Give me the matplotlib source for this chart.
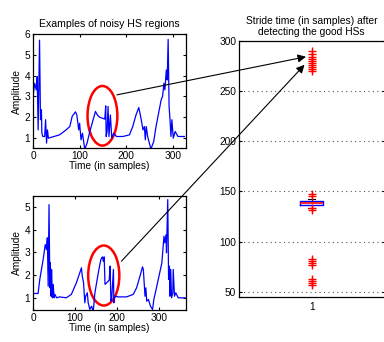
import matplotlib
matplotlib.use('Agg')
import matplotlib.pyplot as plt
from matplotlib.patches import Ellipse, ConnectionPatch

plt.rcParams['font.family'] = ['Liberation Sans', 'DejaVu Sans']
plt.rcParams['font.size'] = 7.3

# sinal de cima (amostras)
t1 = [0, 3.6, 7, 9, 11, 14, 16, 18, 19, 21, 25, 27, 29, 31, 33, 36, 57, 71, 79, 84, 91, 94,
      98, 100, 103, 106, 111, 116, 121, 129, 134, 138, 143, 154, 156, 157, 159, 161, 163,
      166, 169, 173, 179, 193, 207, 214, 221, 227, 232, 236, 239, 241, 243, 246, 253, 259,
      264, 275, 278, 281, 283, 286, 288, 290, 292, 294, 296, 298, 301, 305, 311, 318, 325]
a1 = [3.0, 3.63, 3.31, 3.95, 1.38, 5.71, 1.87, 2.35, 1.22, 1.06, 1.06, 1.87, 0.74, 1.38, 0.98,
      1.0, 1.14, 1.38, 1.54, 2.03, 2.25, 2.1, 1.38, 1.7, 0.9, 1.22, 0.45, 0.74, 1.22, 1.87,
      2.27, 2.1, 1.99, 1.9, 2.54, 1.06, 1.3, 2.51, 1.06, 2.1, 0.98, 1.22, 1.06, 1.06, 1.14,
      1.54, 2.1, 2.46, 1.9, 1.38, 1.54, 0.9, 1.54, 1.06, 0.45, 0.82, 1.54, 2.83, 3.0, 3.63,
      3.31, 4.27, 3.79, 5.75, 2.51, 1.87, 1.06, 1.87, 0.98, 1.3, 1.06, 1.06, 1.06]

# sinal de baixo
t2 = [0, 2, 12, 16, 24, 29, 32, 34, 36, 38, 40, 41, 43, 44, 46, 48, 50, 52, 56, 63, 79, 91,
      103, 111, 115, 117, 120, 123, 125, 129, 131, 135, 139, 143, 147, 155, 161, 163, 165,
      167, 169, 171, 175, 181, 183, 185, 187, 191, 192, 194, 202, 222, 238, 246, 254, 260,
      262, 264, 266, 268, 270, 274, 279, 284, 287, 294, 306, 311, 313, 316, 317, 320, 322,
      324, 325, 327, 329, 332, 333, 336, 339, 345, 361]
a2 = [1.19, 1.19, 1.19, 1.8, 2.68, 3.34, 3.12, 3.64, 1.51, 5.1, 1.44, 2.54, 1.07, 2.25, 1.0,
      1.59, 1.0, 1.15, 1.0, 1.04, 1.0, 1.15, 1.66, 2.1, 2.32, 1.95, 1.66, 0.78, 1.07, 1.22,
      0.78, 0.49, 0.63, 0.41, 1.22, 2.1, 2.68, 2.76, 2.8, 2.6, 2.8, 1.59, 1.66, 1.78, 2.39,
      0.85, 1.0, 2.25, 0.78, 1.07, 1.04, 1.04, 1.15, 1.44, 1.95, 2.36, 2.25, 1.66, 1.07,
      1.44, 0.85, 0.93, 0.63, 0.49, 0.93, 1.51, 2.54, 3.71, 3.42, 3.78, 2.98, 5.32, 1.81,
      2.39, 1.07, 2.25, 1.0, 1.22, 2.25, 1.07, 1.22, 1.0, 1.0]

# boxplot do stride time
stride_med = 138.5
stride_q1 = 136
stride_q3 = 140
stride_lo = 133.5
stride_hi = 142.5
stride_outliers = [270, 272, 274, 276, 278, 280, 282, 284, 287, 290,
                   131, 133, 145, 147, 77, 79, 81, 83, 57, 59, 61, 63]

fig = plt.figure(figsize=(3.84, 3.42), dpi=100)
ax1 = fig.add_axes([0.086, 0.567, 0.398, 0.333])
ax2 = fig.add_axes([0.086, 0.094, 0.398, 0.333])
ax3 = fig.add_axes([0.622, 0.132, 0.380, 0.749])

for ax in (ax1, ax2, ax3):
    ax.tick_params(direction='in', top=True, right=True, length=2.5, pad=2)
    for s in ax.spines.values():
        s.set_linewidth(0.9)

ax1.plot(t1, a1, color='blue', linewidth=0.9)
ax1.set_xlim(0, 328)
ax1.set_ylim(0.5, 6)
ax1.set_xticks([0, 100, 200, 300])
ax1.set_yticks([1, 2, 3, 4, 5, 6])
ax1.set_xlabel('Time (in samples)', labelpad=0)
ax1.set_ylabel('Amplitude', labelpad=2)
ax1.set_title('Examples of noisy HS regions', fontsize=7.6, pad=5)
ax1.add_patch(Ellipse((149, 2.06), 64, 2.88, fill=False, edgecolor='red', linewidth=1.8))

ax2.plot(t2, a2, color='blue', linewidth=0.9)
ax2.set_xlim(0, 363)
ax2.set_ylim(0.47, 5.48)
ax2.set_xticks([0, 100, 200, 300])
ax2.set_yticks([1, 2, 3, 4, 5])
ax2.set_xlabel('Time (in samples)', labelpad=0)
ax2.set_ylabel('Amplitude', labelpad=2)
ax2.add_patch(Ellipse((168, 1.98), 74, 2.64, fill=False, edgecolor='red', linewidth=1.8))

stats = [dict(med=stride_med, q1=stride_q1, q3=stride_q3, whislo=stride_lo,
              whishi=stride_hi, fliers=stride_outliers)]
ax3.bxp(stats, positions=[1], widths=0.16, capwidths=0.05,
        boxprops=dict(color='blue', linewidth=1),
        medianprops=dict(color='red', linewidth=1.2),
        whiskerprops=dict(color='black', linewidth=0.8, linestyle='--'),
        capprops=dict(color='black', linewidth=0.8),
        flierprops=dict(marker='+', markeredgecolor='red', markersize=6, markeredgewidth=1))
ax3.set_xlim(0.5, 1.5)
ax3.set_ylim(45, 300)
ax3.set_yticks([50, 100, 150, 200, 250, 300])
ax3.set_xticks([1])
ax3.set_xticklabels(['1'])
ax3.tick_params(axis='x', length=0, pad=4)
ax3.yaxis.grid(True, linestyle=(0, (1, 3)), color='#555555', linewidth=0.8)
ax3.set_axisbelow(True)
ax3.set_title('Stride time (in samples) after\ndetecting the good HSs', fontsize=7.4, pad=4)

# setas ligando as regioes ao boxplot
for src_ax, xy_a, xy_b in ((ax1, (180, 3.07), (0.96, 284)), (ax2, (210, 2.61), (0.95, 276))):
    con = ConnectionPatch(xyA=xy_a, coordsA=src_ax.transData, xyB=xy_b, coordsB=ax3.transData,
                          arrowstyle='-|>', mutation_scale=12, color='black', linewidth=0.8)
    fig.add_artist(con)

fig.savefig('out.png', dpi=100)
